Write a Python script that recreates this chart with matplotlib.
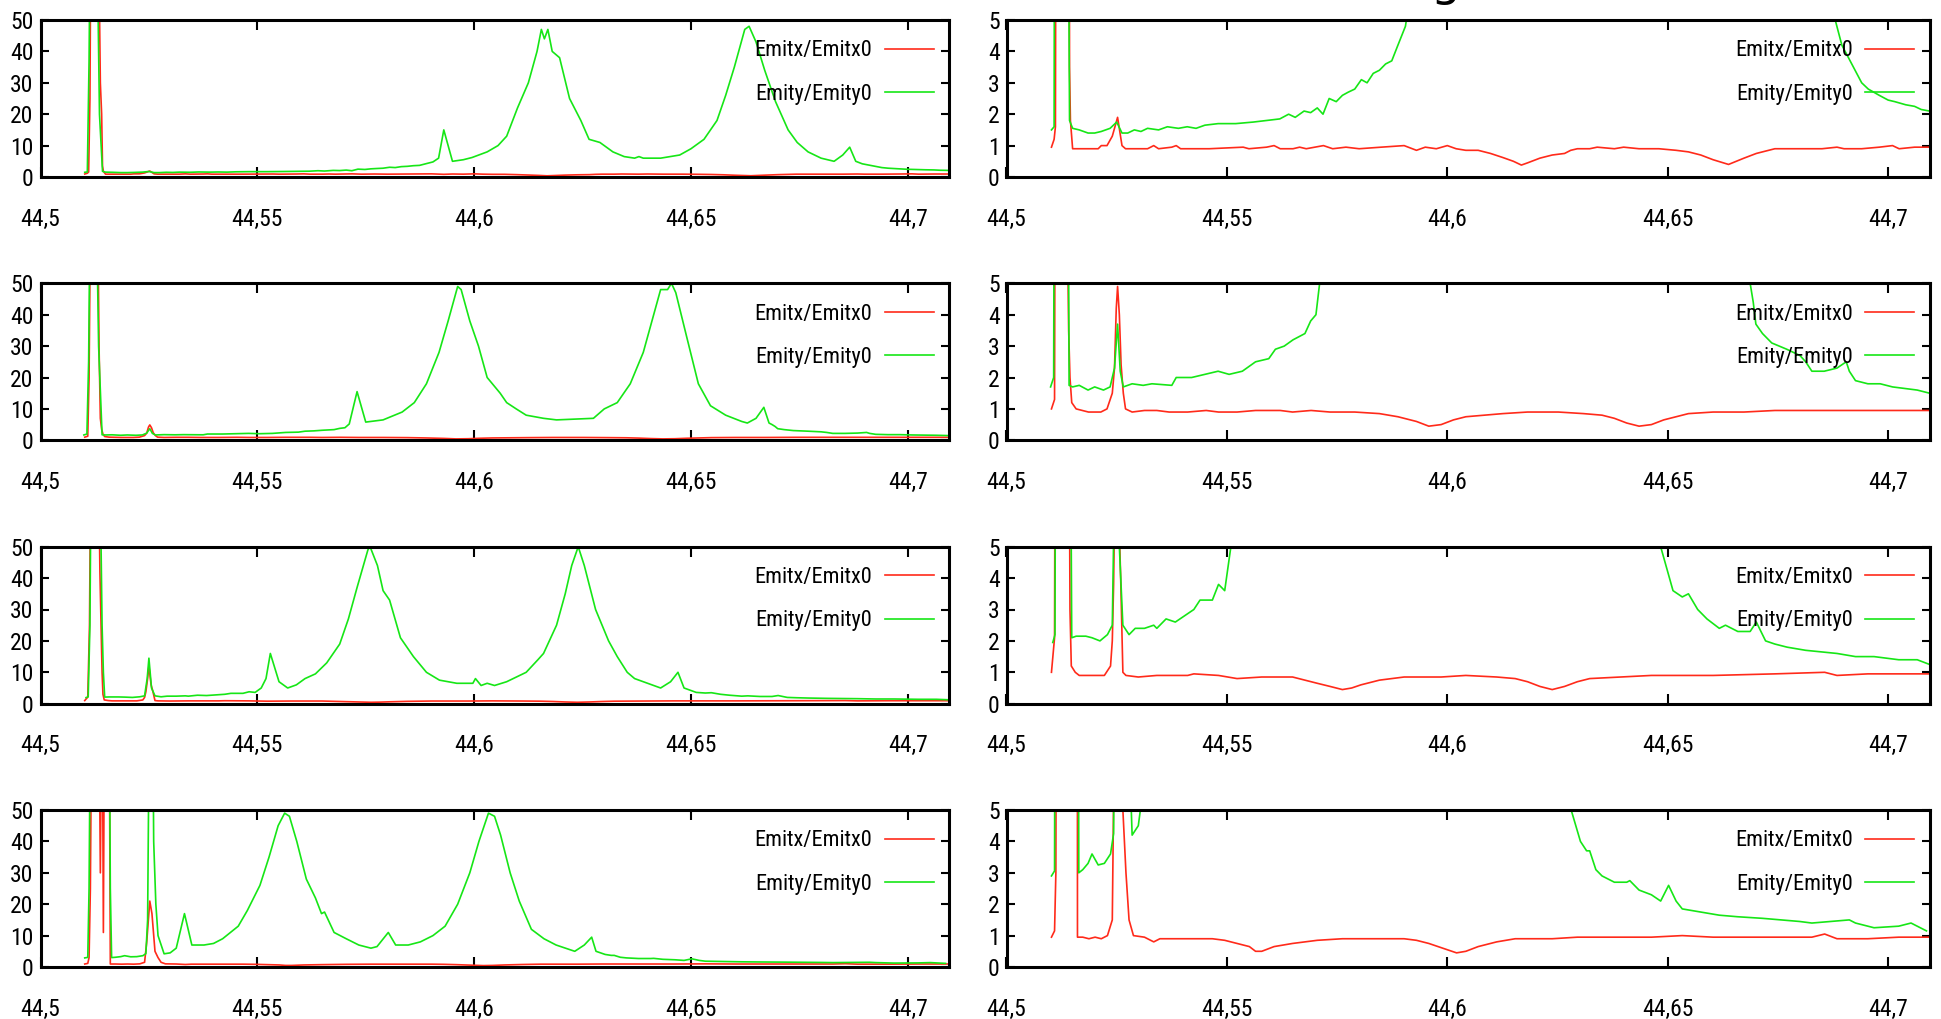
import matplotlib
matplotlib.use("Agg")
import matplotlib.pyplot as plt
from matplotlib import font_manager
from matplotlib.font_manager import FontProperties

# ---- data (x = position, y = emittance ratio) ----
xticks = [44.5, 44.55, 44.6, 44.65, 44.7]
xtick_labels = ["44,5", "44,55", "44,6", "44,65", "44,7"]
yticks_big = [0, 10, 20, 30, 40, 50]
yticks_small = [0, 1, 2, 3, 4, 5]
labels = ["Emitx/Emitx0", "Emity/Emity0"]

# row 1
r1_xred = [44.5102, 44.5108, 44.5111, 44.5114, 44.5117, 44.5132, 44.5138, 44.5141, 44.5143, 44.5145,
           44.5150, 44.5180, 44.5208, 44.5215, 44.5228, 44.5240, 44.5252, 44.5262, 44.5270, 44.5320,
           44.5334, 44.5345, 44.5375, 44.5385, 44.5395, 44.5460, 44.5537, 44.5550, 44.5590, 44.5607,
           44.5621, 44.5650, 44.5665, 44.5680, 44.5719, 44.5740, 44.5770, 44.5800, 44.5850, 44.5902,
           44.5930, 44.5950, 44.5975, 44.6000, 44.6020, 44.6042, 44.6070, 44.6098, 44.6126, 44.6150,
           44.6168, 44.6182, 44.6210, 44.6238, 44.6266, 44.6280, 44.6295, 44.6323, 44.6340, 44.6379,
           44.6400, 44.6435, 44.6480, 44.6519, 44.6547, 44.6575, 44.6603, 44.6638, 44.6673, 44.6701,
           44.6729, 44.6743, 44.6790, 44.6813, 44.6850, 44.6884, 44.6900, 44.6940, 44.6980, 44.7010,
           44.7025, 44.7060, 44.7094]
r1_red = [0.95, 1.2, 1.6, 25, 100, 100, 30, 20, 3.5, 1.8,
          0.9, 0.9, 0.9, 1.0, 1.0, 1.3, 1.9, 1.0, 0.9, 0.9,
          1.0, 0.9, 0.95, 1.0, 0.9, 0.9, 0.95, 0.9, 0.95, 1.0,
          0.9, 0.9, 0.95, 0.9, 1.0, 0.9, 0.95, 0.9, 0.95, 1.0,
          0.85, 0.95, 0.9, 1.0, 0.9, 0.85, 0.85, 0.75, 0.62, 0.5,
          0.38, 0.45, 0.6, 0.7, 0.75, 0.85, 0.9, 0.9, 0.95, 0.9,
          0.95, 0.9, 0.9, 0.85, 0.8, 0.7, 0.55, 0.4, 0.6, 0.75,
          0.85, 0.9, 0.9, 0.9, 0.9, 0.95, 0.9, 0.9, 0.95, 1.0,
          0.9, 0.95, 0.95]
r1_xgreen = [44.5102, 44.5108, 44.5112, 44.5116, 44.5128, 44.5136, 44.5143, 44.5150, 44.5165, 44.5185,
             44.5200, 44.5215, 44.5235, 44.5250, 44.5262, 44.5275, 44.5290, 44.5305, 44.5320, 44.5345,
             44.5365, 44.5390, 44.5410, 44.5430, 44.5450, 44.5480, 44.5520, 44.5560, 44.5590, 44.5620,
             44.5640, 44.5655, 44.5675, 44.5690, 44.5705, 44.5718, 44.5732, 44.5748, 44.5762, 44.5775,
             44.5790, 44.5805, 44.5818, 44.5832, 44.5846, 44.5860, 44.5874, 44.5888, 44.5905, 44.5918,
             44.5930, 44.5950, 44.5975, 44.5995, 44.6030, 44.6055, 44.6075, 44.6100, 44.6125, 44.6145,
             44.6155, 44.6162, 44.6170, 44.6180, 44.6197, 44.6220, 44.6246, 44.6265, 44.6290, 44.6320,
             44.6346, 44.6370, 44.6380, 44.6390, 44.6430, 44.6474, 44.6500, 44.6530, 44.6560, 44.6580,
             44.6600, 44.6624, 44.6634, 44.6650, 44.6670, 44.6695, 44.6724, 44.6745, 44.6770, 44.6800,
             44.6830, 44.6850, 44.6866, 44.6880, 44.6895, 44.6910, 44.6925, 44.6940, 44.6955, 44.6980,
             44.7000, 44.7015, 44.7040, 44.7060, 44.7075, 44.7094]
r1_green = [1.5, 1.6, 37, 100, 100, 20, 1.8, 1.55, 1.5, 1.4,
            1.4, 1.45, 1.55, 1.75, 1.4, 1.4, 1.5, 1.45, 1.55, 1.5,
            1.6, 1.55, 1.6, 1.55, 1.65, 1.7, 1.7, 1.75, 1.8, 1.85,
            2.0, 1.9, 2.1, 2.05, 2.2, 2.0, 2.5, 2.4, 2.6, 2.7,
            2.8, 3.1, 3.0, 3.3, 3.4, 3.6, 3.7, 4.2, 4.8, 6,
            15, 5, 5.5, 6.2, 8, 10, 13, 22, 30, 40,
            47, 44, 47, 40, 38, 25, 18, 12, 11, 8,
            6.5, 6, 6.5, 6, 6, 7, 9, 12, 18, 26,
            35, 47, 48, 43, 34, 24, 15, 11, 8, 6,
            5, 7, 9.5, 5, 4.2, 3.8, 3.4, 3.0, 2.8, 2.6,
            2.45, 2.4, 2.3, 2.25, 2.15, 2.1]

# row 2
r2_xred = [44.5102, 44.5109, 44.5112, 44.5117, 44.5130, 44.5135, 44.5138, 44.5141, 44.5144, 44.5148,
           44.5158, 44.5172, 44.5186, 44.5214, 44.5228, 44.5240, 44.5245, 44.5249, 44.5252, 44.5256,
           44.5260, 44.5265, 44.5270, 44.5285, 44.5313, 44.5341, 44.5369, 44.5411, 44.5453, 44.5481,
           44.5523, 44.5565, 44.5621, 44.5649, 44.5691, 44.5734, 44.5790, 44.5846, 44.5888, 44.5930,
           44.5958, 44.5986, 44.6014, 44.6042, 44.6084, 44.6126, 44.6182, 44.6252, 44.6309, 44.6351,
           44.6379, 44.6407, 44.6435, 44.6463, 44.6491, 44.6519, 44.6547, 44.6603, 44.6673, 44.6743,
           44.6813, 44.6884, 44.6954, 44.7024, 44.7094]
r2_red = [1.0, 1.3, 20, 100, 100, 30, 7, 3.5, 2.0, 1.2,
          1.0, 0.95, 0.9, 0.9, 1.0, 1.5, 2.3, 4.2, 4.9, 4.0,
          2.4, 1.5, 1.0, 0.9, 0.95, 0.95, 0.9, 0.9, 0.95, 0.9,
          0.9, 0.95, 0.95, 0.9, 0.95, 0.9, 0.9, 0.85, 0.75, 0.6,
          0.45, 0.5, 0.65, 0.75, 0.8, 0.85, 0.9, 0.9, 0.85, 0.8,
          0.7, 0.55, 0.45, 0.5, 0.65, 0.75, 0.85, 0.9, 0.9, 0.95,
          0.95, 0.95, 0.95, 0.95, 0.95]
r2_xgreen = [44.5100, 44.5107, 44.5111, 44.5116, 44.5126, 44.5134, 44.5142, 44.5150, 44.5165, 44.5185,
             44.5200, 44.5220, 44.5235, 44.5245, 44.5252, 44.5258, 44.5265, 44.5285, 44.5310, 44.5330,
             44.5375, 44.5385, 44.5420, 44.5450, 44.5480, 44.5505, 44.5535, 44.5565, 44.5595, 44.5610,
             44.5630, 44.5650, 44.5677, 44.5690, 44.5702, 44.5712, 44.5730, 44.5750, 44.5790, 44.5834,
             44.5862, 44.5890, 44.5919, 44.5940, 44.5962, 44.5970, 44.5990, 44.6010, 44.6030, 44.6060,
             44.6075, 44.6097, 44.6120, 44.6160, 44.6190, 44.6275, 44.6300, 44.6330, 44.6360, 44.6390,
             44.6410, 44.6430, 44.6446, 44.6455, 44.6465, 44.6490, 44.6517, 44.6545, 44.6580, 44.6617,
             44.6630, 44.6650, 44.6668, 44.6680, 44.6687, 44.6694, 44.6700, 44.6715, 44.6736, 44.6770,
             44.6800, 44.6813, 44.6827, 44.6855, 44.6884, 44.6905, 44.6912, 44.6926, 44.6954, 44.6982,
             44.7010, 44.7038, 44.7066, 44.7094]
r2_green = [1.7, 2.0, 25, 100, 100, 30, 1.75, 1.7, 1.75, 1.6,
            1.7, 1.6, 1.7, 2.3, 3.7, 2.2, 1.7, 1.8, 1.75, 1.8,
            1.75, 2.0, 2.0, 2.1, 2.2, 2.1, 2.2, 2.5, 2.6, 2.9,
            3.0, 3.2, 3.4, 3.8, 4.0, 5.2, 15.5, 5.8, 6.5, 9,
            12, 18, 28, 38, 49, 48, 38, 30, 20, 15,
            12, 10, 8, 7, 6.5, 7, 10, 12, 18, 28,
            38, 48, 48, 50, 47, 33, 18, 11, 8, 6,
            5.5, 7, 10.5, 5.5, 5.0, 4.4, 3.7, 3.4, 3.1, 2.9,
            2.7, 2.5, 2.2, 2.2, 2.3, 2.5, 2.2, 1.9, 1.8, 1.8,
            1.7, 1.65, 1.6, 1.5]

# row 3
r3_xred = [44.5102, 44.5109, 44.5113, 44.5117, 44.5132, 44.5137, 44.5142, 44.5144, 44.5147, 44.5156,
           44.5165, 44.5222, 44.5236, 44.5240, 44.5243, 44.5247, 44.5250, 44.5255, 44.5259, 44.5264,
           44.5271, 44.5299, 44.5341, 44.5411, 44.5425, 44.5481, 44.5523, 44.5579, 44.5649, 44.5677,
           44.5705, 44.5734, 44.5762, 44.5783, 44.5804, 44.5846, 44.5902, 44.5986, 44.6042, 44.6112,
           44.6154, 44.6182, 44.6210, 44.6238, 44.6266, 44.6295, 44.6323, 44.6393, 44.6463, 44.6603,
           44.6743, 44.6856, 44.6884, 44.6954, 44.7024, 44.7094]
r3_red = [1.0, 2.1, 25, 100, 100, 42, 10, 3.0, 1.2, 1.0,
          0.9, 0.9, 1.2, 2.0, 3.8, 8, 12, 6, 4.0, 1.0,
          0.9, 0.85, 0.9, 0.9, 0.95, 0.9, 0.8, 0.85, 0.85, 0.75,
          0.65, 0.55, 0.45, 0.5, 0.6, 0.75, 0.85, 0.85, 0.9, 0.85,
          0.8, 0.7, 0.55, 0.45, 0.55, 0.7, 0.8, 0.85, 0.9, 0.9,
          0.95, 1.0, 0.9, 0.95, 0.95, 0.95]
r3_xgreen = [44.5105, 44.5110, 44.5114, 44.5118, 44.5135, 44.5142, 44.5145, 44.5148, 44.5158, 44.5180,
             44.5194, 44.5212, 44.5229, 44.5240, 44.5246, 44.5250, 44.5256, 44.5264, 44.5278, 44.5292,
             44.5313, 44.5334, 44.5341, 44.5362, 44.5383, 44.5404, 44.5425, 44.5439, 44.5467, 44.5481,
             44.5495, 44.5509, 44.5520, 44.5530, 44.5550, 44.5570, 44.5590, 44.5610, 44.5634, 44.5660,
             44.5690, 44.5710, 44.5730, 44.5755, 44.5760, 44.5777, 44.5790, 44.5805, 44.5830, 44.5860,
             44.5890, 44.5920, 44.5960, 44.5997, 44.6003, 44.6016, 44.6030, 44.6047, 44.6075, 44.6120,
             44.6147, 44.6160, 44.6190, 44.6210, 44.6225, 44.6240, 44.6254, 44.6280, 44.6310, 44.6330,
             44.6353, 44.6370, 44.6400, 44.6430, 44.6453, 44.6470, 44.6484, 44.6498, 44.6512, 44.6533,
             44.6547, 44.6568, 44.6589, 44.6617, 44.6631, 44.6659, 44.6687, 44.6701, 44.6722, 44.6743,
             44.6771, 44.6813, 44.6884, 44.6926, 44.6968, 44.7024, 44.7066, 44.7094]
r3_green = [1.95, 2.2, 25, 100, 100, 25, 10, 2.1, 2.15, 2.15,
            2.1, 2.0, 2.2, 2.5, 8, 14.5, 5, 2.5, 2.2, 2.4,
            2.4, 2.5, 2.4, 2.7, 2.6, 2.8, 3.0, 3.3, 3.3, 3.8,
            3.6, 5.0, 8, 16, 7, 5, 6, 8, 9.5, 13,
            19, 27, 37, 49, 50, 44, 36, 33, 21, 15,
            10, 7.5, 6.5, 6.5, 8, 5.8, 6.5, 5.8, 7, 10,
            14, 16, 25, 35, 44, 50, 44, 30, 20, 15,
            10, 8, 6.5, 5, 7, 10, 5.0, 4.3, 3.6, 3.4,
            3.5, 3.0, 2.7, 2.4, 2.5, 2.3, 2.3, 2.6, 2.0, 1.9,
            1.8, 1.7, 1.6, 1.5, 1.5, 1.4, 1.4, 1.25]

# row 4
r4_xred = [44.5102, 44.5109, 44.5112, 44.5115, 44.5119, 44.5134, 44.5138, 44.5142, 44.5145, 44.5148,
           44.5158, 44.5161, 44.5173, 44.5187, 44.5201, 44.5215, 44.5229, 44.5240, 44.5245, 44.5252,
           44.5257, 44.5264, 44.5271, 44.5278, 44.5288, 44.5313, 44.5334, 44.5348, 44.5383, 44.5425,
           44.5467, 44.5495, 44.5523, 44.5551, 44.5565, 44.5579, 44.5607, 44.5649, 44.5705, 44.5762,
           44.5818, 44.5902, 44.5930, 44.5958, 44.6000, 44.6021, 44.6042, 44.6070, 44.6112, 44.6154,
           44.6238, 44.6295, 44.6379, 44.6463, 44.6533, 44.6603, 44.6673, 44.6743, 44.6827, 44.6856,
           44.6884, 44.6954, 44.7024, 44.7094]
r4_red = [0.95, 1.15, 3.0, 25, 100, 100, 30, 100, 11, 100,
          100, 0.95, 0.95, 0.9, 0.95, 0.9, 1.0, 1.5, 8, 21,
          17, 5.0, 3.0, 1.5, 1.0, 0.95, 0.8, 0.9, 0.9, 0.9,
          0.9, 0.85, 0.75, 0.65, 0.5, 0.5, 0.65, 0.75, 0.85, 0.9,
          0.9, 0.9, 0.85, 0.75, 0.55, 0.45, 0.5, 0.65, 0.8, 0.9,
          0.9, 0.95, 0.95, 0.95, 1.0, 0.95, 0.95, 0.95, 0.95, 1.05,
          0.9, 0.9, 0.95, 0.95]
r4_xgreen = [44.5102, 44.5109, 44.5112, 44.5116, 44.5158, 44.5161, 44.5164, 44.5173, 44.5185, 44.5194,
             44.5208, 44.5222, 44.5236, 44.5243, 44.5247, 44.5252, 44.5258, 44.5261, 44.5266, 44.5271,
             44.5285, 44.5299, 44.5313, 44.5332, 44.5349, 44.5377, 44.5399, 44.5420, 44.5456, 44.5477,
             44.5506, 44.5527, 44.5548, 44.5563, 44.5574, 44.5591, 44.5613, 44.5634, 44.5648, 44.5655,
             44.5677, 44.5705, 44.5734, 44.5762, 44.5776, 44.5802, 44.5819, 44.5848, 44.5876, 44.5905,
             44.5933, 44.5962, 44.5990, 44.6011, 44.6033, 44.6047, 44.6061, 44.6083, 44.6104, 44.6132,
             44.6161, 44.6189, 44.6232, 44.6254, 44.6271, 44.6281, 44.6302, 44.6316, 44.6323, 44.6337,
             44.6351, 44.6379, 44.6407, 44.6414, 44.6435, 44.6463, 44.6484, 44.6502, 44.6519, 44.6533,
             44.6575, 44.6617, 44.6659, 44.6715, 44.6757, 44.6799, 44.6827, 44.6912, 44.6926, 44.6968,
             44.7024, 44.7052, 44.7087]
r4_green = [2.9, 3.06, 25, 100, 100, 25, 3.0, 3.1, 3.3, 3.6,
            3.25, 3.3, 3.6, 4.25, 15, 100, 100, 40, 20, 10,
            4.2, 4.5, 6, 17, 7, 7, 7.5, 9, 13, 18,
            26, 35, 45, 49, 48, 40, 28, 22, 17, 17.5,
            11, 9, 7, 6, 6.5, 11, 7, 7, 8, 10,
            13, 20, 30, 40, 49, 48, 42, 30, 21, 12,
            9, 7, 5, 7, 9.5, 5.0, 4.0, 3.7, 3.7, 3.1,
            2.9, 2.7, 2.7, 2.75, 2.45, 2.3, 2.1, 2.6, 2.1, 1.85,
            1.75, 1.65, 1.6, 1.55, 1.5, 1.45, 1.4, 1.5, 1.4, 1.25,
            1.3, 1.4, 1.15]

rows = [
    (r1_xred, r1_red, r1_xgreen, r1_green),
    (r2_xred, r2_red, r2_xgreen, r2_green),
    (r3_xred, r3_red, r3_xgreen, r3_green),
    (r4_xred, r4_red, r4_xgreen, r4_green),
]

RED = "#ff2a1a"
GREEN = "#16e616"


def upright(f):
    fn = f.fname.lower()
    return (f.style == "normal" and "italic" not in fn and "oblique" not in fn
            and "bold" not in fn and f.weight in (400, "normal", "regular"))


# pick an upright condensed face if one is installed (the original uses a narrow font)
fonts = font_manager.fontManager.ttflist
narrow = None
for want in ["Liberation Sans Narrow", "Roboto Condensed", "Open Sans Condensed",
             "Noto Sans Condensed", "DejaVu Sans Condensed"]:
    for f in fonts:
        if f.name == want and upright(f):
            narrow = f.fname
            break
    if narrow:
        break
if narrow is None:
    for f in fonts:
        st = str(f.stretch).lower()
        if f.name in ("DejaVu Sans", "Noto Sans", "Open Sans", "Roboto") and upright(f) and \
                ("condensed" in st or "condensed" in f.fname.lower()):
            narrow = f.fname
            break


def tick_font():
    if narrow:
        return FontProperties(fname=narrow, size=17)
    return FontProperties(family="DejaVu Sans", size=14)


def legend_font():
    if narrow:
        return FontProperties(fname=narrow, size=16)
    return FontProperties(family="DejaVu Sans", size=13.5)


W, H = 1941, 1019
fig = plt.figure(figsize=(W / 100, H / 100), dpi=100)

col_left = [40.5, 1006.5]
col_right = [949, 1930]
row_top = [20, 283.3, 546.7, 810]
ax_h = 157

for i, (xr, yr, xg, yg) in enumerate(rows):
    for j, (ymax, yt) in enumerate([(50, yticks_big), (5, yticks_small)]):
        l = col_left[j] / W
        w = (col_right[j] - col_left[j]) / W
        b = 1 - (row_top[i] + ax_h) / H
        ax = fig.add_axes([l, b, w, ax_h / H])
        ax.plot(xr, yr, color=RED, lw=1.2, label=labels[0])
        ax.plot(xg, yg, color=GREEN, lw=1.2, label=labels[1])
        ax.set_xlim(44.5, 44.7095)
        ax.set_ylim(0, ymax)
        ax.set_xticks(xticks)
        ax.set_xticklabels(xtick_labels, fontproperties=tick_font())
        ax.set_yticks(yt)
        ax.set_yticklabels([str(v) for v in yt], fontproperties=tick_font())
        ax.tick_params(axis='x', direction='in', length=7, width=1.5, top=True, pad=22)
        ax.tick_params(axis='y', direction='in', length=6, width=1.5, right=True, pad=5)
        for s in ax.spines.values():
            s.set_linewidth(2.2)
        ax.legend(loc='center right', bbox_to_anchor=(0.983, 0.665), frameon=False,
                  markerfirst=False, prop=legend_font(), handlelength=2.2, handletextpad=0.55,
                  labelspacing=1.0, borderpad=0, borderaxespad=0)

# cut-off title at the very top edge
fig.text(1445 / W, 1 + 5 / H, "g", fontsize=34, ha='center', va='baseline',
         family='DejaVu Sans')

fig.savefig("out.png", dpi=100)
